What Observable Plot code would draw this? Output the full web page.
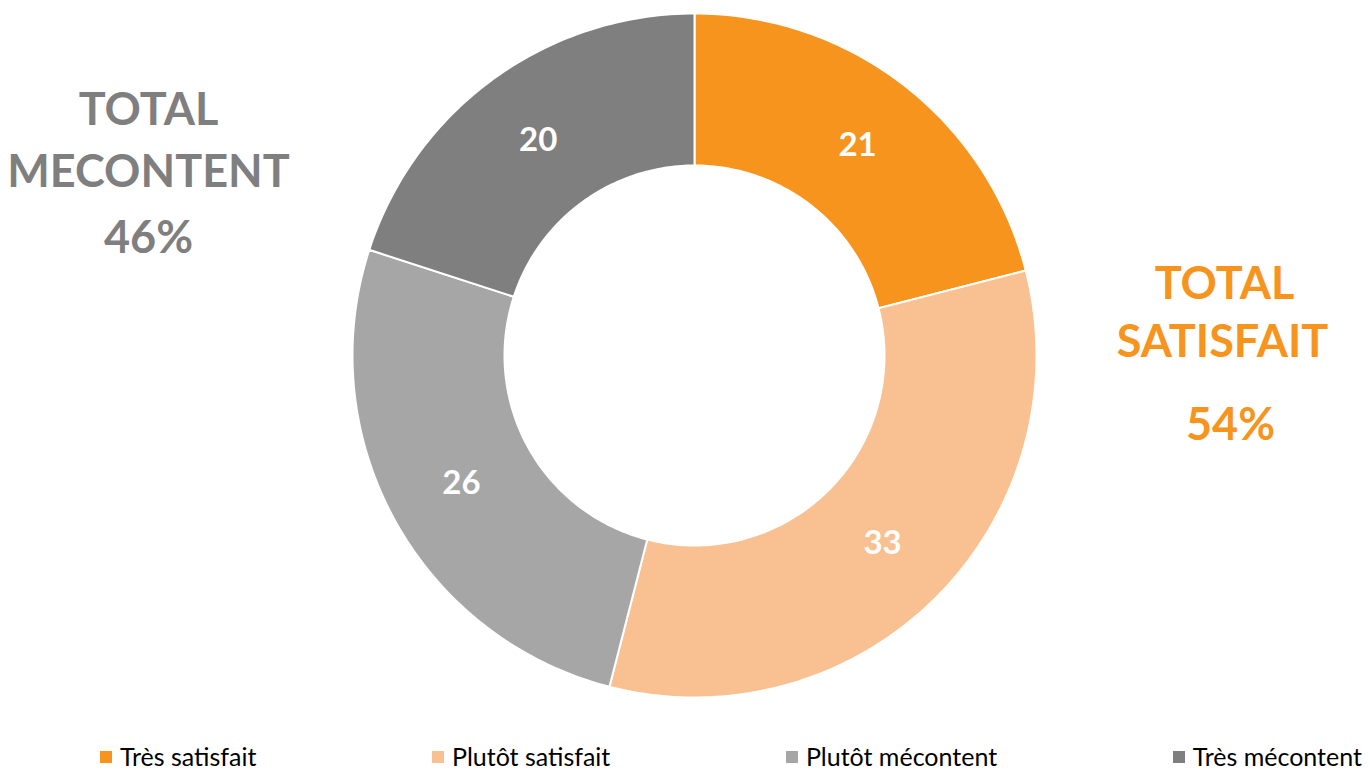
<!DOCTYPE html>
<html><head><meta charset="utf-8">
<script src="https://cdn.jsdelivr.net/npm/d3@7"></script>
<script src="https://cdn.jsdelivr.net/npm/@observablehq/plot@0.6"></script>
<style>
body{margin:0;background:#fff;font-family:Lato,"Open Sans",sans-serif;}
#legend{display:flex;justify-content:space-between;padding:4px 8px 0 100px;height:33px;align-items:center;font-size:25px;color:#000;width:1262px;}
.item{display:flex;align-items:center;white-space:nowrap;}
.sw{width:12px;height:12px;margin-right:8px;margin-top:2px;}
</style></head><body><div id="chart"></div><div id="legend"></div>
<script>
const categories = ["Très satisfait", "Plutôt satisfait", "Plutôt mécontent", "Très mécontent"];
const values = [21, 33, 26, 20];
const colors = ["#F7941D", "#F9C191", "#A6A6A6", "#7F7F7F"];
const groupTitles = [["TOTAL", "SATISFAIT"], ["TOTAL", "MECONTENT"]];
const groupMembers = [[0, 1], [2, 3]];
const groupColors = ["#F7941D", "#7F7F7F"];

const W = 1370, H = 735, cx = 694, cy = 355, R = 342;
const innerRatio = 190 / 342;

const data = categories.map((c, i) => ({key: c, value: values[i]}));
const arcs = d3.pie().sort(null).value(d => d.value)(data);

const poly = [];
for (const a of arcs) {
  const n = Math.max(8, Math.round((a.endAngle - a.startAngle) / (2 * Math.PI) * 360));
  const pts = [];
  for (let k = 0; k <= n; k++) {
    const t = a.startAngle + (a.endAngle - a.startAngle) * k / n;
    pts.push({key: a.data.key, x: Math.sin(t), y: Math.cos(t)});
  }
  for (let k = n; k >= 0; k--) {
    const t = a.startAngle + (a.endAngle - a.startAngle) * k / n;
    pts.push({key: a.data.key, x: innerRatio * Math.sin(t), y: innerRatio * Math.cos(t)});
  }
  pts.push({...pts[0]});
  poly.push(...pts);
}

const midR = (1 + innerRatio) / 2;
const labels = arcs.map(a => {
  const t = (a.startAngle + a.endAngle) / 2;
  return {x: midR * Math.sin(t), y: midR * Math.cos(t), text: String(a.data.value)};
});

const totals = groupMembers.map(m => d3.sum(m, i => values[i]) + "%");

const font = "Lato, 'Open Sans', sans-serif";
const textMark = (str, dx, dy, color) => Plot.text([str], {
  text: d => d, frameAnchor: "top-left", dx, dy, textAnchor: "middle", lineAnchor: "top",
  fill: color, fontSize: 45, fontWeight: "bold", fontFamily: font
});

const plot = Plot.plot({
  width: W, height: H, margin: 0,
  x: {domain: [-cx / R, (W - cx) / R], range: [0, W], axis: null},
  y: {domain: [-(H - cy) / R, cy / R], range: [H, 0], axis: null},
  color: {domain: categories, range: colors},
  style: {fontFamily: font, background: "white"},
  marks: [
    Plot.line(poly, {x: "x", y: "y", z: "key", fill: "key", stroke: "white", strokeWidth: 2}),
    Plot.text(labels, {x: "x", y: "y", text: "text", fill: "white", fontSize: 33, fontWeight: "bold", fontFamily: font}),
    textMark(groupTitles[1][0], 148, 93, groupColors[1]),
    textMark(groupTitles[1][1], 148, 155, groupColors[1]),
    textMark(totals[1], 148, 221, groupColors[1]),
    textMark(groupTitles[0][0], 1224, 267, groupColors[0]),
    textMark(groupTitles[0][1], 1222, 325, groupColors[0]),
    textMark(totals[0], 1230, 408, groupColors[0])
  ]
});
document.getElementById("chart").appendChild(plot);

const legend = document.getElementById("legend");
categories.forEach((c, i) => {
  const it = document.createElement("div");
  it.className = "item";
  const sw = document.createElement("span");
  sw.className = "sw";
  sw.style.background = colors[i];
  const tx = document.createElement("span");
  tx.textContent = c;
  it.appendChild(sw); it.appendChild(tx);
  legend.appendChild(it);
});
</script></body></html>
